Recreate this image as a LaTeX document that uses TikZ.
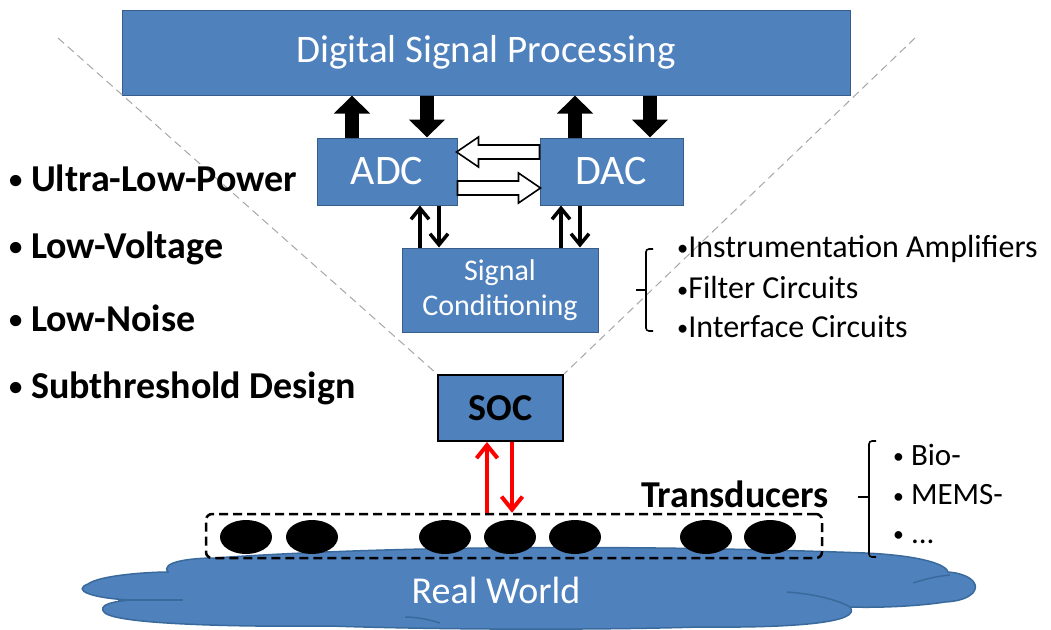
\documentclass[tikz,border=0pt]{standalone}
\usepackage{fontspec}
\usepackage{graphicx}
\setmainfont{Carlito}
\usetikzlibrary{arrows.meta,shapes.geometric,calc}
\definecolor{boxblue}{HTML}{4F81BD}
\definecolor{boxline}{HTML}{385D8A}
\definecolor{cloudline}{HTML}{3A6A9C}
\definecolor{guide}{HTML}{A6A6A6}
% compact list bullet
\newcommand{\bul}{\raisebox{0.06em}{\scalebox{0.7}{•}}}

\begin{document}
\begin{tikzpicture}[x=1pt,y=-1pt,
  blk/.style={draw=boxline, line width=1pt, fill=boxblue, text=white, inner sep=0pt, align=center},
  fat/.style={line width=14pt, -{Triangle[width=35pt,length=18pt]}},
  thinarr/.style={line width=3.5pt, -{Straight Barb[length=11pt,width=18pt]}},
  redarr/.style={red, line width=4pt, -{Straight Barb[length=13pt,width=21pt]}},
  hollow/.style={draw=black, fill=white, line width=1.6pt, line join=miter},
  guideline/.style={guide, line width=1pt, dash pattern=on 8pt off 5pt},
  brace/.style={line width=1.6pt, rounded corners=3pt},
  bigbold/.style={font=\fontsize{38}{44}\selectfont\bfseries, inner sep=0pt},
  listtxt/.style={font=\fontsize{31}{36}\selectfont, inner sep=0pt},
  crease/.style={draw=cloudline, line width=1.5pt},
  sensor/.style={fill=black, ellipse, minimum width=52pt, minimum height=34pt, inner sep=0pt}
]
\useasboundingbox (0,0) rectangle (1051,629);

% processing chain
\node[blk, minimum width=728pt, minimum height=85pt, font=\fontsize{39}{44}\selectfont] (dsp) at (486,52.5) {Digital Signal Processing};
\node[blk, minimum width=140pt, minimum height=67pt, font=\fontsize{42}{46}\selectfont] (adc) at (387,171.5) {ADC};
\node[blk, minimum width=143pt, minimum height=67pt, font=\fontsize{42}{46}\selectfont] (dac) at (611.5,171.5) {DAC};
\node[blk, minimum width=196pt, minimum height=84pt, font=\fontsize{30}{35}\selectfont] (sc) at (500,290) {Signal\\Conditioning};
\node[blk, draw=black, line width=2pt, text=black, minimum width=125pt, minimum height=66pt, font=\fontsize{38}{44}\selectfont\bfseries] (soc) at (500.5,408) {SOC};

% funnel guide lines
\coordinate (gl) at (58,38);
\coordinate (gr) at (915,38);
\draw[guideline] (gl) -- (soc.north west);
\draw[guideline] (gr) -- (soc.north east);

% DSP <-> converters
\coordinate (c1) at (352,0);
\coordinate (c2) at (427,0);
\coordinate (c3) at (575,0);
\coordinate (c4) at (650,0);
\draw[fat] (adc.north -| c1) -- (dsp.south -| c1);
\draw[fat] (dsp.south -| c2) -- (adc.north -| c2);
\draw[fat] (dac.north -| c3) -- (dsp.south -| c3);
\draw[fat] (dsp.south -| c4) -- (dac.north -| c4);

% ADC <-> DAC hollow arrows
\coordinate (y1) at (0,152);
\coordinate (y2) at (0,188);
\draw[hollow] (dac.west |- y1) ++(0,-7) -- ++(-61,0) -- ++(0,-8) -- ++(-22,15) -- ++(22,15) -- ++(0,-8) -- ++(61,0) -- cycle;
\draw[hollow] (adc.east |- y2) ++(0,-7) -- ++(61,0) -- ++(0,-8) -- ++(22,15) -- ++(-22,15) -- ++(0,-8) -- ++(-61,0) -- cycle;

% converters <-> signal conditioning
\coordinate (t1) at (420,0);
\coordinate (t2) at (439,0);
\coordinate (t3) at (561,0);
\coordinate (t4) at (580,0);
\draw[thinarr] (sc.north -| t1) -- (adc.south -| t1);
\draw[thinarr] (adc.south -| t2) -- (sc.north -| t2);
\draw[thinarr] (sc.north -| t3) -- (dac.south -| t3);
\draw[thinarr] (dac.south -| t4) -- (sc.north -| t4);

% real world cloud
\draw[fill=boxblue, draw=cloudline, line width=1.5pt]
  (215,558) .. controls (400,545) and (650,545) .. (865,553)
  .. controls (910,555) and (945,562) .. (948,572)
  .. controls (985,575) and (985,600) .. (945,602)
  .. controls (920,606) and (880,608) .. (850,607)
  .. controls (862,622) and (800,628) .. (700,627)
  .. controls (600,630) and (450,630) .. (330,626)
  .. controls (250,627) and (120,625) .. (105,613)
  .. controls (95,604) and (118,601) .. (130,600)
  .. controls (90,598) and (72,590) .. (88,584)
  .. controls (100,575) and (150,572) .. (168,572)
  .. controls (160,562) and (190,558) .. (215,558) -- cycle;
\draw[crease] (118,600) .. controls (140,600) and (165,600) .. (183,600);
\draw[crease] (913,583) .. controls (925,579) and (938,576) .. (950,575);
\draw[crease] (787,592) .. controls (815,594) and (838,600) .. (850,607);
\draw[crease] (405,617) .. controls (418,617) and (430,620) .. (440,623);
\node[text=white, font=\fontsize{38}{44}\selectfont, inner sep=0pt] (wtxt) at (496,590) {Real World};

% transducer array
\node[draw=black, line width=2.5pt, dash pattern=on 9pt off 5pt, rounded corners=6pt,
      minimum width=616pt, minimum height=44pt, inner sep=0pt] (tr) at (514,536) {};
\foreach \x [count=\i] in {246,312,445,510,575,706,770}
  \node[sensor] (s\i) at (\x,537) {};

% SOC <-> transducers
\coordinate (r1) at (487,0);
\coordinate (r2) at (512,0);
\draw[redarr] (tr.north -| r1) -- (soc.south -| r1);
\draw[redarr] (soc.south -| r2) -- (tr.north -| r2);

\node[bigbold] (trl) at (735,494) {Transducers};

% design goals
\node[bigbold, anchor=west] (g1) at (9,178) {\bul\ Ultra-Low-Power};
\node[bigbold, anchor=west] (g2) at (9,248) {\bul\ Low-Voltage};
\node[bigbold, anchor=west] (g3) at (9,318) {\bul\ Low-Noise};
\node[bigbold, anchor=west] (g4) at (9,388) {\bul\ Subthreshold Design};

% signal conditioning blocks
\draw[brace] (653,249) -- (646,249) -- (646,331) -- (653,331);
\draw[line width=1.6pt] (646,290) -- (636,290);
\node[listtxt, font=\fontsize{32}{38}\selectfont, anchor=west] (i1) at (677,249) {\bul Instrumentation Amplifiers};
\node[listtxt, font=\fontsize{32}{38}\selectfont, anchor=west] (i2) at (677,288) {\bul Filter Circuits};
\node[listtxt, font=\fontsize{32}{38}\selectfont, anchor=west] (i3) at (677,327) {\bul Interface Circuits};

% transducer kinds
\draw[brace] (876,441) -- (869,441) -- (869,557) -- (876,557);
\draw[line width=1.6pt] (869,497) -- (858,497);
\node[listtxt, anchor=west] (k1) at (893,455) {\bul\ Bio-};
\node[listtxt, anchor=west] (k2) at (893,495) {\bul\ MEMS-};
\node[listtxt, anchor=west] (k3) at (893,538) {\bul\ ...};
\end{tikzpicture}
\end{document}
